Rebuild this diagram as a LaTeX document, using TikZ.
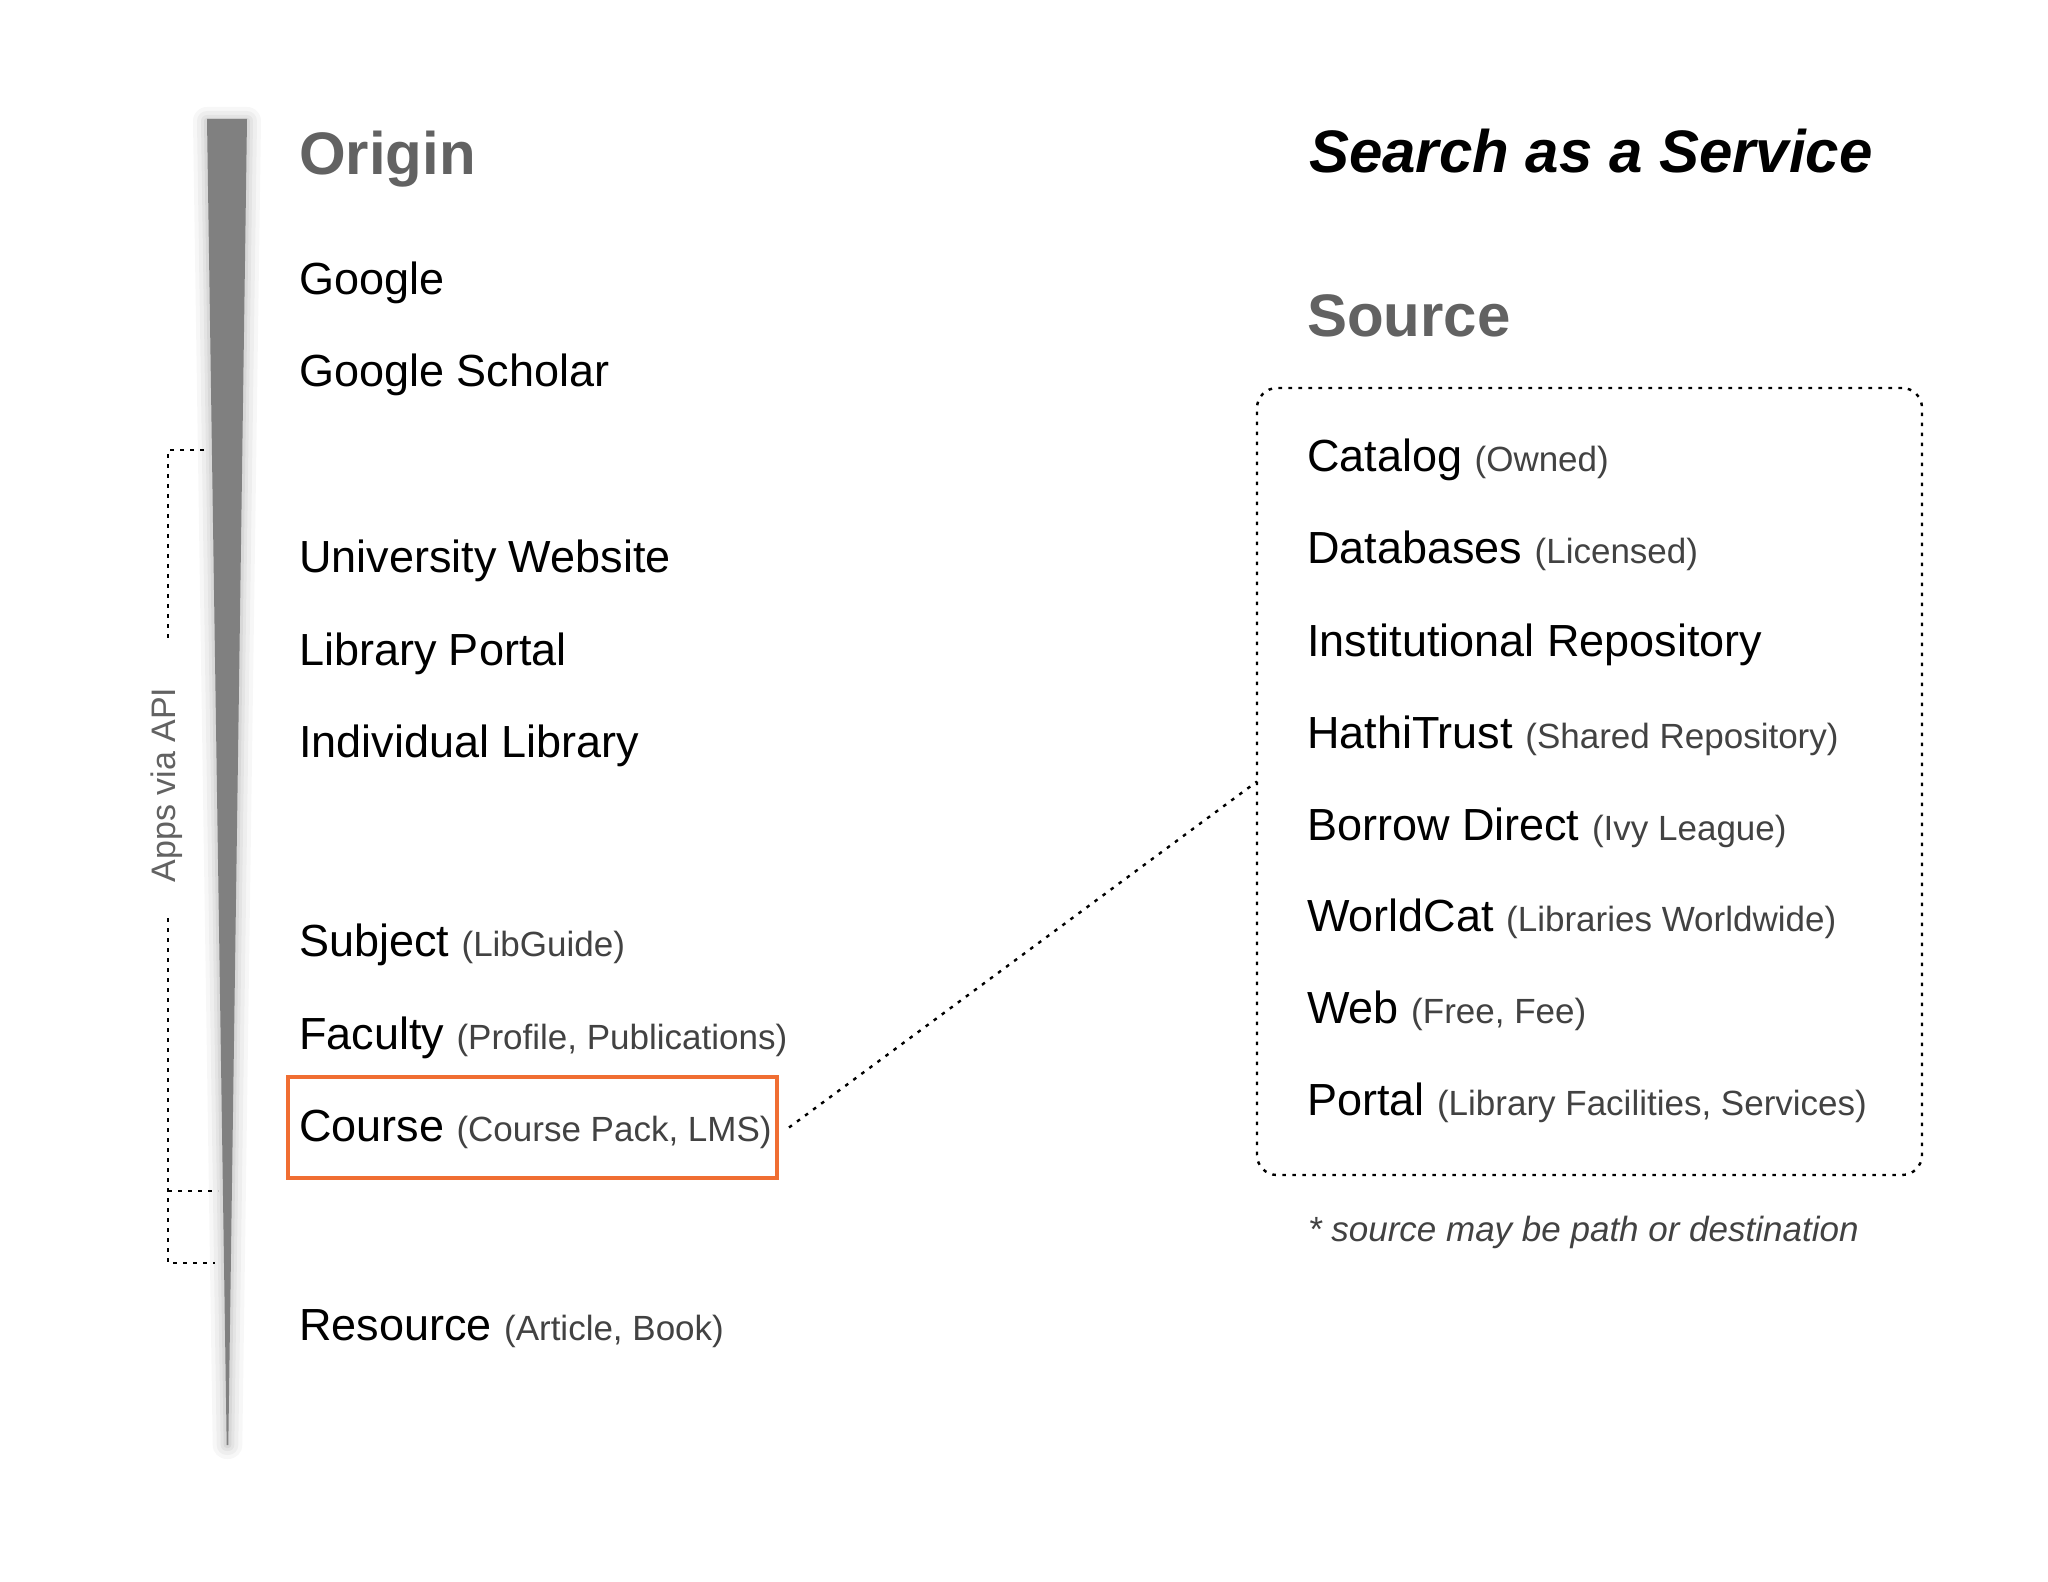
\documentclass[tikz,border=0pt]{standalone}
\usepackage{fontspec}
\setmainfont{Liberation Sans}
\definecolor{headgray}{RGB}{98,98,98}
\definecolor{pargray}{RGB}{66,66,66}
\definecolor{wedgegray}{RGB}{128,128,128}
\definecolor{hiorange}{RGB}{240,110,50}
\newcommand{\mainsz}{\fontsize{22.5}{26}\selectfont}
\newcommand{\parsz}{\fontsize{17.5}{21}\selectfont}
\newcommand{\headsz}{\fontsize{30}{35}\selectfont}
\newcommand{\apisz}{\fontsize{17}{20}\selectfont}
\newcommand{\pnote}[1]{{\parsz\color{pargray}#1}}
\tikzset{
  txt/.style={anchor=base west, inner sep=0pt, outer sep=0pt, font=\mainsz, text=black},
  head/.style={anchor=base west, inner sep=0pt, outer sep=0pt, font=\headsz\bfseries, text=headgray},
  headbi/.style={anchor=base west, inner sep=0pt, outer sep=0pt, font=\headsz\bfseries\itshape, text=black},
  footnote/.style={anchor=base west, inner sep=0pt, outer sep=0pt, font=\parsz\itshape, text=pargray},
  apilabel/.style={rotate=90, inner sep=0pt, outer sep=0pt, font=\apisz, text=headgray},
  dotline/.style={line width=1.2pt, dash pattern=on 1.8pt off 3.2pt, black},
  hibox/.style={draw=hiorange, line width=2pt, inner sep=0pt, outer sep=0pt, rectangle},
  srcframe/.style={draw=black, line width=1.2pt, dash pattern=on 1.8pt off 3.2pt, rounded corners=10pt, inner sep=0pt, outer sep=0pt, rectangle},
}
\begin{document}
\begin{tikzpicture}[x=0.5pt,y=-0.5pt]
\useasboundingbox[fill=white] (0,0) rectangle (2048,1582);

% wedge with soft shadow
\foreach \w/\o in {14/0.03,10/0.035,6/0.04,3/0.05}{
  \draw[black, opacity=\o, line width=\w pt, line join=round]
    (207,121) -- (247,121) -- (228.3,1445) -- (226.7,1445) -- cycle;
}
\fill[wedgegray] (207,119) -- (247,119) -- (228.3,1445) -- (226.7,1445) -- cycle;

% Apps via API bracket
\coordinate (brA) at (204,450);
\coordinate (brB) at (168,450);
\coordinate (brC) at (168,643);
\coordinate (brD) at (168,918);
\coordinate (brE) at (168,1263);
\coordinate (brF) at (215,1263);
\coordinate (brG) at (168,1191);
\coordinate (brH) at (218,1191);
\draw[dotline] (brA) -- (brB) -- (brC);
\draw[dotline] (brD) -- (brE) -- (brF);
\draw[dotline] (brG) -- (brH);
\node[apilabel] (api) at (167,785) {Apps via API};

% left column
\node[head] (origin) at (299,175) {Origin};
\node[txt] (google) at (299,295) {Google};
\node[txt] (gscholar) at (299,387) {Google Scholar};
\node[txt] (univ) at (299,573) {University Website};
\node[txt] (libportal) at (299,665) {Library Portal};
\node[txt] (indiv) at (299,757) {Individual Library};
\node[txt] (subject) at (299,956) {Subject \pnote{(LibGuide)}};
\node[txt] (faculty) at (299,1049) {Faculty \pnote{(Profile, Publications)}};
\node[txt] (course) at (299,1141) {Course \pnote{(Course Pack, LMS)}};
\node[txt] (resource) at (299,1340) {Resource \pnote{(Article, Book)}};

\node[hibox, minimum width=244.5pt, minimum height=50.5pt] (coursebox) at (532.5,1127.5) {};

% right column
\node[headbi] (saas) at (1309,173) {Search as a Service};
\node[head] (source) at (1307,337) {Source};
\node[srcframe, minimum width=332.5pt, minimum height=393.5pt] (srcbox) at (1589.5,781.5) {};

\node[txt] (catalog) at (1307,472) {Catalog \pnote{(Owned)}};
\node[txt] (databases) at (1307,564) {Databases \pnote{(Licensed)}};
\node[txt] (instrepo) at (1307,656) {Institutional Repository};
\node[txt] (hathi) at (1307,748) {HathiTrust \pnote{(Shared Repository)}};
\node[txt] (borrow) at (1307,840) {Borrow Direct \pnote{(Ivy League)}};
\node[txt] (worldcat) at (1307,931) {WorldCat \pnote{(Libraries Worldwide)}};
\node[txt] (web) at (1307,1023) {Web \pnote{(Free, Fee)}};
\node[txt] (portal) at (1307,1115) {Portal \pnote{(Library Facilities, Services)}};

\node[footnote] (note) at (1308,1241) {* source may be path or destination};

% connector
\draw[dotline] ([xshift=6pt]coursebox.east) -- (srcbox.west);
\end{tikzpicture}
\end{document}
